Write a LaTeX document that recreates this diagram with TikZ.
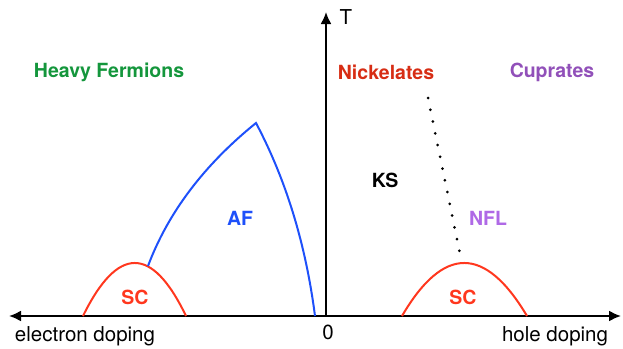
\documentclass[tikz,border=0pt]{standalone}
\usepackage{fontspec}
\setmainfont{TeX Gyre Heros}
\usepackage{tikz}
\usepackage{xcolor}
\usetikzlibrary{arrows.meta}
\definecolor{hfgreen}{RGB}{20,150,60}
\definecolor{nickred}{RGB}{215,45,20}
\definecolor{cuppurple}{RGB}{145,80,185}
\definecolor{nflpurple}{RGB}{175,105,230}
\definecolor{scred}{RGB}{255,55,30}
\definecolor{afblue}{RGB}{30,80,250}
\tikzset{
  phase/.style={font=\bfseries\fontsize{19.5}{22}\selectfont},
  axlabel/.style={font=\fontsize{20.5}{23}\selectfont},
  axis/.style={line width=2pt,-{Latex[length=12pt,width=11pt]}},
  border/.style={line width=2pt}
}
\begin{document}
\begin{tikzpicture}[x=1pt,y=-1pt]
\useasboundingbox (0,0) rectangle (623,348);
\coordinate (o) at (326,316);
\coordinate (l) at (9,316);
\coordinate (r) at (621,316);
\coordinate (t) at (326,12);
\draw[axis](o)--(l);
\draw[axis](o)--(r);
\draw[axis](o)--(t);
% superconducting domes
\draw[border,scred](83,316) .. controls (117.7,245.3) and (152,245.3) .. (186,316);
\draw[border,scred](402,316) .. controls (443.3,245.3) and (485,245.3) .. (527,316);
% antiferromagnet
\coordinate (afl) at (148,266);
\coordinate (aftop) at (256,123);
\coordinate (afr) at (315,316);
\draw[border,afblue](afl) .. controls (168,212.7) and (204,165) .. (aftop)
  .. controls (286,179.7) and (305.7,244) .. (afr);
% crossover line
\coordinate (d1) at (428,98);
\coordinate (d2) at (460,254);
\draw[line width=3pt,line cap=round,dash pattern=on 0pt off 12pt](d1)--(d2);
\node[phase,text=hfgreen] (hf) at (109,72) {Heavy Fermions};
\node[phase,text=nickred] (ni) at (386,72) {Nickelates};
\node[phase,text=cuppurple] (cu) at (552,72) {Cuprates};
\node[phase] (ks) at (385,180) {KS};
\node[phase,text=afblue] (af) at (240,218) {AF};
\node[phase,text=nflpurple] (nfl) at (488,218) {NFL};
\node[phase,text=scred] (scl) at (135,297) {SC};
\node[phase,text=scred] (scr) at (463,297) {SC};
\node[axlabel] (el) at (85,336) {electron doping};
\node[axlabel] (zero) at (328,332) {0};
\node[axlabel] (ho) at (555,336) {hole doping};
\node[axlabel] (tl) at (346,17) {T};
\end{tikzpicture}
\end{document}
